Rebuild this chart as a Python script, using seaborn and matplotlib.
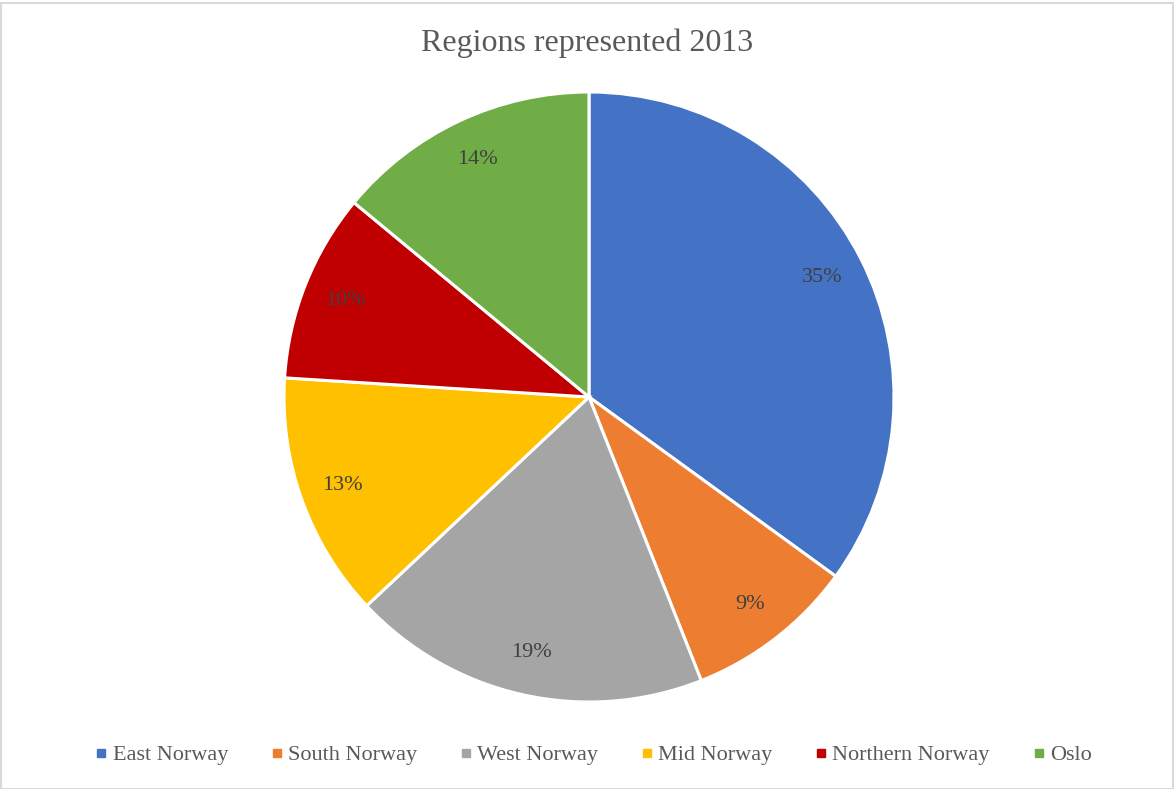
import matplotlib
matplotlib.use("Agg")
import matplotlib.pyplot as plt
from matplotlib.lines import Line2D
from matplotlib.patches import Rectangle
import seaborn as sns

regions = ["East Norway", "South Norway", "West Norway", "Mid Norway", "Northern Norway", "Oslo"]
shares = [35, 9, 19, 13, 10, 14]
colors = ["#4472C4", "#ED7D31", "#A5A5A5", "#FFC000", "#C00000", "#70AD47"]
title = "Regions represented 2013"

sns.set_theme(style="white")
plt.rcParams["font.family"] = ["Liberation Serif", "DejaVu Serif"]
palette = sns.color_palette(colors)

W, H = 1174, 789
fig = plt.figure(figsize=(W / 100, H / 100), dpi=100)
fig.patch.set_facecolor("white")

cx, cy, r = 589, 397, 305
ax = fig.add_axes([(cx - r) / W, (H - cy - r) / H, 2 * r / W, 2 * r / H])
wedges, _, autotexts = ax.pie(
    shares,
    colors=palette,
    startangle=90,
    counterclock=False,
    autopct=lambda p: f"{p:.0f}%",
    pctdistance=0.86,
    wedgeprops=dict(edgecolor="white", linewidth=2.2),
    textprops=dict(color="#404040", fontsize=16),
)
ax.set_xlim(-1, 1)
ax.set_ylim(-1, 1)
ax.set_aspect("equal")
ax.axis("off")

fig.text(0.5, 1 - 43 / H, title, ha="center", va="center",
         fontsize=23, color="#595959")

handles = [Line2D([], [], marker="s", linestyle="none", markersize=6,
                  markerfacecolor=c, markeredgecolor=c) for c in palette]
fig.legend(handles, regions, loc="center", bbox_to_anchor=(0.5 + 5 / W, 1 - 755 / H),
           ncol=len(regions), frameon=False, fontsize=16, handletextpad=0.1,
           columnspacing=1.8, handlelength=0.8, labelcolor="#595959")

fig.patches.append(Rectangle((0.5 / W, 0.5 / H), 1 - 2 / W, 1 - 3 / H,
                             transform=fig.transFigure, fill=False,
                             edgecolor="#d9d9d9", linewidth=1.5))

fig.savefig("out.png", dpi=100, facecolor="white")
